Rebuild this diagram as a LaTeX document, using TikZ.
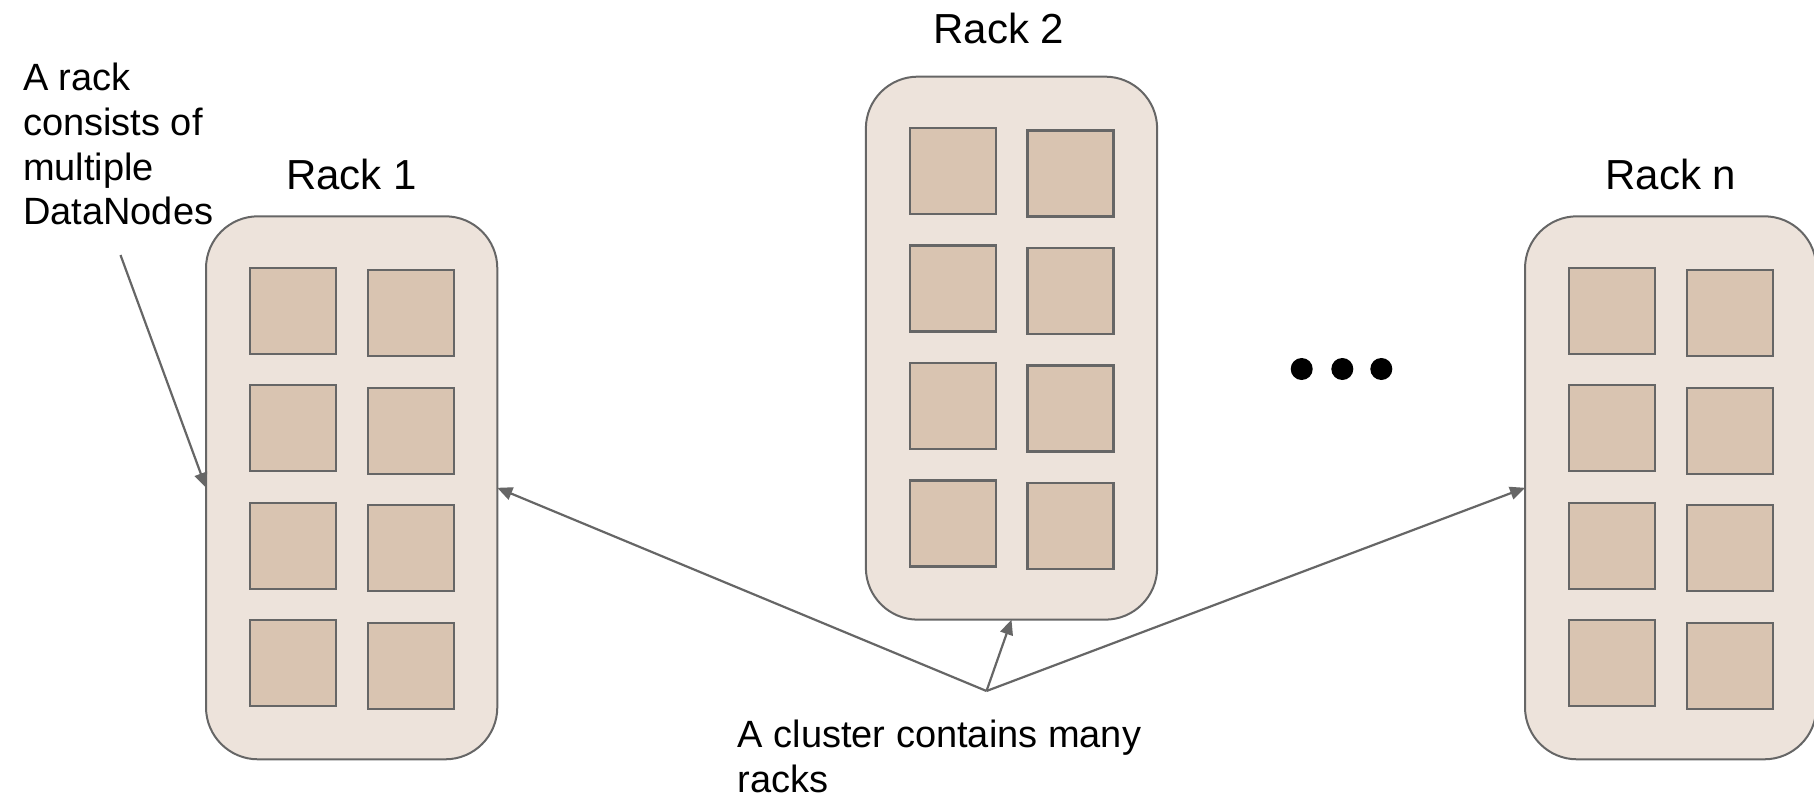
\documentclass[tikz,border=0pt]{standalone}
\usepackage{fontspec}
\setmainfont{Liberation Sans}
\usetikzlibrary{arrows.meta}
\definecolor{rackfill}{RGB}{237,227,219}
\definecolor{unitfill}{RGB}{217,196,177}
\definecolor{edgegray}{RGB}{102,102,102}
\begin{document}
\begin{tikzpicture}[x=0.5pt,y=-0.5pt,
  rack/.style={draw=edgegray, line width=1pt, fill=rackfill, rounded corners=26pt,
    minimum width=145.65pt, minimum height=271.5pt, inner sep=0pt, outer sep=0pt},
  unit/.style={draw=edgegray, line width=1.2pt, fill=unitfill,
    minimum width=43pt, minimum height=43pt, inner sep=0pt},
  racklabel/.style={font=\fontsize{21}{25}\selectfont, anchor=base, inner sep=0pt},
  note/.style={font=\fontsize{19}{22.35}\selectfont, align=left, anchor=north west, inner sep=0pt},
  link/.style={draw=edgegray, line width=1.1pt, -{Triangle[length=7.5pt,width=6.5pt]}},
  dot/.style={circle, fill=black, minimum size=11pt, inner sep=0pt}]
\useasboundingbox (0,0) rectangle (1814,797);

% racks
\node[rack] (r1) at (351.65,487.8) {};
\node[rack] (r2) at (1011.5,348.15) {};
\node[rack] (rn) at (1670.65,487.8) {};

% DataNodes: two columns of four in every rack
\foreach \r in {r1,r2,rn} {
  \foreach \i in {1,...,4} {
    \pgfmathsetmacro{\ya}{-177.1+117.5*(\i-1)}
    \pgfmathsetmacro{\yb}{\ya+2.5}
    \node[unit] (\r-a\i) at ([shift={(-58.65,\ya)}]\r.center) {};
    \node[unit] (\r-b\i) at ([shift={(59.05,\yb)}]\r.center) {};
  }
}

% rack titles
\node[racklabel] (l1) at (351.65,189.3) {Rack 1};
\node[racklabel] (l2) at (999,43.7) {Rack 2};
\node[racklabel] (ln) at (1670.7,189.6) {Rack n};

% ellipsis between racks
\node[dot] (d1) at (1301.7,369) {};
\node[dot] (d2) at (1342.3,369) {};
\node[dot] (d3) at (1381.3,369) {};

% notes
\node[note] (n1) at (22.7,62.8) {A rack\\consists of\\multiple\\DataNodes};
\node[note] (n2) at (737.3,719.8) {A cluster contains many\\racks};

% pointers
\coordinate (tail) at (120.5,255);
\coordinate (apex) at (986.5,691);
\draw[link] (tail) -- (r1.west);
\draw[link] (apex) -- (r1.east);
\draw[link] (apex) -- (r2.south);
\draw[link] (apex) -- (rn.west);
\end{tikzpicture}
\end{document}
